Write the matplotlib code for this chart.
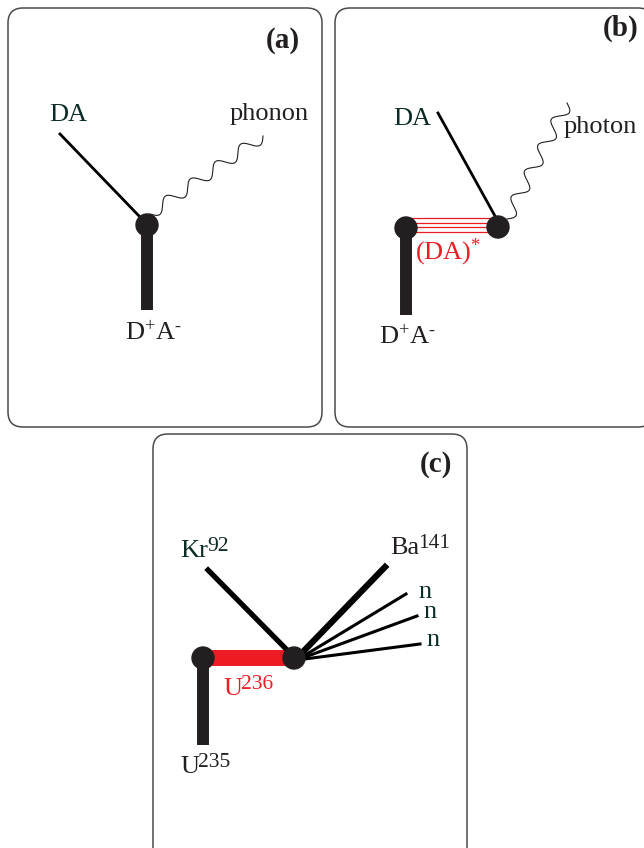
import numpy as np
import matplotlib.pyplot as plt
from matplotlib.patches import FancyBboxPatch, Circle

plt.rcParams['font.family'] = ['Liberation Serif', 'DejaVu Serif']
plt.rcParams['mathtext.fontset'] = 'custom'
plt.rcParams['mathtext.rm'] = 'Liberation Serif'
plt.rcParams['mathtext.it'] = 'Liberation Serif'

INK = '#231f20'
TEAL = '#0b2b26'
RED = '#ed1c24'

# panel frames: x0, y0, x1, y1 (pixels, y down)
panels = [(8, 8, 322, 427), (335, 8, 653, 427), (153, 434, 467, 870)]
panel_tags = ['(a)', '(b)', '(c)']
tag_xy = [(283, 40), (621, 28), (436, 465)]

# vertices
vtx_a = (147, 225)
vtx_b1, vtx_b2 = (406, 228), (498, 227)
vtx_c1, vtx_c2 = (203, 658), (294, 658)

# legs
da_a = [(60, 134), (140, 217)]
da_b = [(438, 113), (495, 216)]
kr_c = [(208, 570), (292, 655)]
ba_c = [(297, 658), (385, 567)]
n_ends = [(406, 594), (417, 616), (420, 644)]
wave_a = [(150, 214), (263, 136)]
wave_b = [(507, 219), (567, 103)]
red_rungs_y = [218, 223, 227, 232]

# nuclide labels: base, mass number, left x, centre y, colour
nuclides = [('Kr', '92', 180, 551, TEAL), ('Ba', '141', 390, 548, INK),
            ('U', '236', 223, 689, RED), ('U', '235', 180, 767, INK)]

fig = plt.figure(figsize=(6.44, 8.48), dpi=100)
ax = fig.add_axes([0, 0, 1, 1])
ax.set_xlim(0, 644)
ax.set_ylim(848, 0)
ax.axis('off')

for (x0, y0, x1, y1), tag, (tx, ty) in zip(panels, panel_tags, tag_xy):
    ax.add_patch(FancyBboxPatch((x0, y0), x1 - x0, y1 - y0,
                                boxstyle='round,pad=0,rounding_size=15',
                                fc='white', ec='#4a4a4a', lw=1.1, zorder=0))
    ax.text(tx, ty, tag, fontsize=21, fontweight='bold', color=INK,
            ha='center', va='center')


def wavy(p0, p1, periods, amp, lw=0.8):
    p0, p1 = np.array(p0, float), np.array(p1, float)
    d = p1 - p0
    L = np.hypot(*d)
    u = d / L
    nrm = np.array([-u[1], u[0]])
    t = np.linspace(0, 1, 400)
    off = amp * np.sin(2 * np.pi * periods * t)
    pts = p0[None, :] + np.outer(t, d) + np.outer(off, nrm)
    ax.plot(pts[:, 0], pts[:, 1], color=INK, lw=lw, zorder=2)


def stem(v, y_end):
    ax.plot([v[0], v[0]], [v[1], y_end], color=INK, lw=8.6,
            solid_capstyle='butt', zorder=3)


def dot(v, r=11):
    ax.add_patch(Circle(v, r, color=INK, zorder=5))


def nuclide(base, sup, x, y, c):
    t = ax.text(x, y, base, fontsize=19, color=c, ha='left', va='center')
    ax.annotate(sup, xy=(1, 1), xycoords=t, xytext=(-0.5, 2),
                textcoords='offset points', fontsize=15.5, color=c,
                ha='left', va='top')


DPLUS = r'D$^{+}$A$^{\text{-}}$'

# ---- (a)
ax.plot(*zip(*da_a), color='black', lw=2, zorder=3)
wavy(*wave_a, periods=4.5, amp=6)
stem(vtx_a, 310)
dot(vtx_a)
ax.text(68, 115, 'DA', fontsize=19, color=TEAL, ha='center', va='center')
ax.text(269, 114, 'phonon', fontsize=19, color=INK, ha='center', va='center')
ax.text(153, 333, DPLUS, fontsize=19, color=INK, ha='center', va='center')

# ---- (b)
ax.plot(*zip(*da_b), color='black', lw=2, zorder=3)
wavy(*wave_b, periods=4.5, amp=6.5)
for y in red_rungs_y:
    ax.plot([vtx_b1[0], vtx_b2[0]], [y, y], color=RED, lw=0.9, zorder=2)
stem(vtx_b1, 315)
dot(vtx_b1)
dot(vtx_b2)
ax.text(412, 119, 'DA', fontsize=19, color=TEAL, ha='center', va='center')
ax.text(600, 127, 'photon', fontsize=19, color=INK, ha='center', va='center')
ax.text(448, 252, r'(DA)$^{*}$', fontsize=19, color=RED, ha='center', va='center')
ax.text(407, 337, DPLUS, fontsize=19, color=INK, ha='center', va='center')

# ---- (c)
ax.plot([vtx_c1[0], vtx_c2[0]], [vtx_c1[1], vtx_c2[1]], color=RED, lw=11.5,
        solid_capstyle='butt', zorder=2)
ax.plot(*zip(*kr_c), color='black', lw=3.8, zorder=3)
ax.plot(*zip(*ba_c), color='black', lw=4.5, zorder=3)
for e in n_ends:
    ax.plot([297, e[0]], [660, e[1]], color='black', lw=2.2, zorder=3)
stem(vtx_c1, 745)
dot(vtx_c1)
dot(vtx_c2)
for base, sup, x, y, c in nuclides:
    nuclide(base, sup, x, y, c)
for (nx, ny) in [(425, 592), (430, 612), (433, 640)]:
    ax.text(nx, ny, 'n', fontsize=19, color=TEAL, ha='center', va='center')

fig.savefig('out.png', dpi=100)
